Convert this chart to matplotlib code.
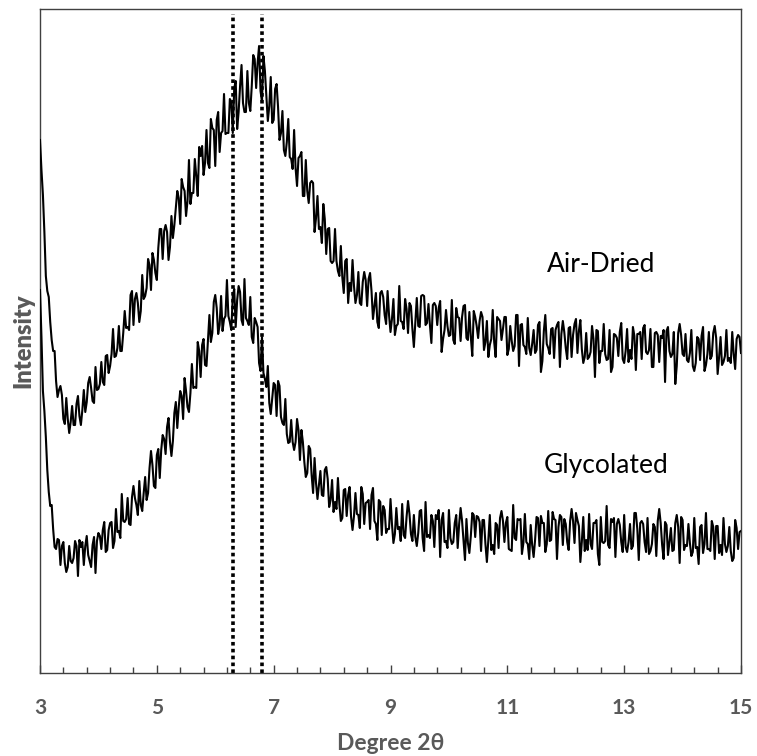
import numpy as np
import matplotlib
matplotlib.use("Agg")
import matplotlib.pyplot as plt
from matplotlib.ticker import FixedLocator

# ---- data (intensity in arbitrary units) ----
# scan: 3.00 .. 15.00 degree 2θ, samples every 0.025 degree, stored as
# the points on the 0.05 grid and the points halfway between them
two_theta_start = 3.0
two_theta_end = 15.0

air_dried = [
    533, 478, 397, 376, 333, 322, 276, 287, 254, 275, 240, 267, 248, 277, 248, 283, 271, 296, 272, 306,
    284, 311, 288, 318, 307, 344, 317, 347, 322, 362, 346, 378, 348, 380, 351, 398, 377, 414, 383, 413,
    393, 444, 414, 448, 413, 457, 448, 482, 449, 486, 457, 513, 480, 514, 477, 517, 498, 543, 505, 545,
    507, 561, 540, 579, 540, 574, 540, 592, 561, 608, 561, 602, 562, 618, 585, 627, 571, 602, 552, 596,
    553, 589, 533, 562, 517, 554, 514, 543, 487, 517, 477, 513, 470, 492, 441, 477, 446, 469, 419, 445,
    410, 444, 402, 427, 380, 414, 390, 413, 370, 401, 368, 401, 367, 400, 354, 380, 345, 382, 358, 382,
    341, 374, 347, 387, 351, 374, 340, 367, 326, 375, 346, 378, 348, 369, 330, 370, 348, 372, 334, 363,
    337, 373, 329, 356, 332, 367, 335, 361, 317, 356, 335, 361, 323, 352, 328, 363, 316, 354, 333, 356,
    318, 347, 322, 358, 307, 349, 326, 355, 318, 343, 323, 351, 312, 358, 325, 344, 315, 348, 306, 352,
    325, 345, 316, 349, 320, 353, 310, 340, 316, 347, 296, 342, 322, 349, 313, 343, 306, 338, 317, 350,
    310, 344, 323, 346, 303, 339, 314, 348, 319, 344, 306, 341, 311, 335, 291, 346, 316, 341, 307, 349,
    319, 339, 311, 343, 302, 336, 313, 346, 308, 341, 317, 347, 299, 336, 311, 343, 315, 341, 304, 338,
    320,
]

air_dried_half = [
    503, 441, 382, 351, 322, 292, 283, 278, 249, 254, 251, 248, 269, 257, 263, 261, 290, 285, 270, 283,
    289, 291, 317, 300, 319, 316, 325, 322, 340, 345, 343, 382, 374, 370, 362, 374, 385, 408, 420, 400,
    425, 444, 442, 441, 426, 435, 465, 475, 494, 482, 472, 469, 480, 497, 526, 527, 510, 510, 554, 543,
    553, 521, 542, 539, 540, 571, 585, 544, 587, 570, 561, 570, 587, 614, 610, 582, 617, 577, 567, 550,
    584, 566, 540, 523, 531, 516, 504, 505, 515, 521, 477, 482, 490, 490, 455, 444, 430, 454, 444, 412,
    412, 412, 397, 396, 412, 370, 382, 387, 378, 370, 391, 393, 394, 382, 367, 351, 380, 376, 349, 358,
    354, 338, 349, 352, 344, 364, 370, 344, 351, 347, 377, 377, 350, 348, 368, 367, 365, 321, 343, 347,
    338, 333, 365, 355, 356, 368, 333, 336, 362, 347, 352, 356, 331, 316, 334, 331, 356, 352, 344, 356,
    324, 332, 327, 358, 348, 328, 319, 325, 329, 320, 348, 301, 342, 329, 319, 345, 343, 351, 339, 341,
    314, 346, 338, 354, 342, 324, 316, 314, 321, 334, 343, 310, 322, 319, 314, 301, 339, 335, 341, 314,
    322, 311, 314, 337, 339, 341, 345, 321, 323, 306, 340, 338, 337, 343, 342, 322, 319, 289, 340, 338,
    317, 313, 320, 307, 310, 334, 337, 302, 319, 314, 340, 335, 316, 308, 317, 312, 310, 319, 334, 336,
]

glycolated = [
    383, 282, 236, 181, 168, 126, 134, 108, 131, 101, 127, 110, 132, 97, 126, 108, 137, 112, 128, 100,
    140, 124, 151, 123, 150, 125, 164, 142, 179, 151, 175, 148, 187, 168, 192, 162, 196, 180, 222, 187,
    218, 195, 238, 219, 255, 217, 260, 245, 282, 254, 282, 261, 309, 286, 331, 296, 334, 307, 358, 340,
    378, 339, 377, 354, 393, 351, 377, 346, 387, 353, 394, 352, 376, 330, 351, 310, 336, 294, 307, 259,
    290, 257, 287, 250, 274, 230, 253, 223, 254, 213, 231, 196, 227, 198, 215, 174, 202, 177, 206, 166,
    193, 171, 195, 152, 183, 157, 186, 143, 180, 158, 186, 149, 171, 144, 185, 149, 173, 138, 163, 144,
    174, 130, 165, 146, 169, 135, 172, 139, 158, 127, 162, 135, 171, 138, 158, 126, 154, 116, 160, 132,
    163, 129, 150, 125, 165, 133, 154, 120, 160, 136, 156, 122, 153, 111, 158, 128, 150, 125, 162, 131,
    156, 123, 168, 133, 153, 119, 159, 129, 148, 116, 156, 127, 150, 121, 162, 133, 154, 114, 158, 128,
    149, 123, 164, 130, 153, 111, 156, 133, 159, 124, 150, 119, 156, 130, 167, 125, 151, 116, 154, 131,
    158, 121, 149, 127, 160, 113, 152, 131, 155, 122, 149, 117, 164, 128, 151, 118, 145, 123, 158, 110,
    153, 128, 149, 117, 155, 126, 146, 120, 160, 124, 152, 114, 147, 128, 155, 121, 146, 112, 153, 124,
    142,
]

glycolated_half = [
    336, 262, 203, 167, 144, 124, 133, 127, 110, 106, 112, 115, 127, 133, 131, 127, 118, 106, 136, 132,
    137, 143, 121, 143, 151, 132, 141, 135, 152, 154, 149, 176, 175, 158, 168, 180, 173, 205, 208, 185,
    224, 223, 234, 246, 231, 232, 271, 266, 277, 295, 266, 280, 285, 285, 322, 328, 308, 332, 331, 371,
    365, 348, 342, 357, 357, 343, 384, 373, 381, 348, 355, 348, 336, 355, 346, 302, 300, 286, 270, 274,
    288, 292, 256, 248, 239, 231, 231, 231, 243, 243, 211, 200, 224, 180, 190, 188, 178, 203, 194, 173,
    161, 164, 169, 155, 184, 178, 156, 157, 159, 145, 179, 170, 173, 178, 152, 133, 171, 167, 140, 144,
    149, 139, 144, 132, 138, 156, 159, 132, 136, 140, 163, 122, 136, 135, 152, 158, 163, 153, 131, 125,
    135, 131, 158, 149, 152, 113, 130, 137, 158, 157, 151, 153, 129, 133, 123, 119, 148, 155, 152, 150,
    124, 122, 135, 154, 154, 130, 131, 114, 128, 133, 155, 157, 150, 129, 132, 161, 153, 146, 156, 154,
    131, 152, 152, 160, 147, 131, 122, 123, 129, 150, 153, 108, 131, 132, 128, 154, 155, 149, 148, 121,
    126, 131, 124, 160, 144, 150, 149, 121, 119, 129, 146, 152, 150, 114, 148, 131, 122, 150, 146, 156,
    123, 127, 130, 121, 125, 109, 148, 129, 124, 122, 146, 147, 120, 118, 129, 127, 122, 115, 145, 141,
]

reference_peaks = [6.31, 6.80]          # dotted reference lines (degree 2θ)
major_ticks = [3, 5, 7, 9, 11, 13, 15]
minor_step = 0.4
labels = {"Air-Dried": (12.6, 408), "Glycolated": (12.69, 208)}


def scan(grid_vals, half_vals):
    xg = np.linspace(two_theta_start, two_theta_end, len(grid_vals))
    step = (two_theta_end - two_theta_start) / (len(grid_vals) - 1)
    xh = np.linspace(two_theta_start + step / 2, two_theta_end - step / 2, len(half_vals))
    x = np.concatenate([xg, xh])
    y = np.concatenate([np.asarray(grid_vals, float), np.asarray(half_vals, float)])
    order = np.argsort(x, kind="stable")
    return x[order], y[order]


x_air, y_air = scan(air_dried, air_dried_half)
x_gly, y_gly = scan(glycolated, glycolated_half)

# ---- figure ----
fig = plt.figure(figsize=(7.57, 7.56), dpi=100)
ax = fig.add_axes([40 / 757, 1 - 673 / 756, (741 - 40) / 757, (673 - 8.5) / 756])

ax.plot(x_air, y_air, color="black", lw=1.5, zorder=3)
ax.plot(x_gly, y_gly, color="black", lw=1.5, zorder=3)

for p in reference_peaks:
    ax.axvline(p, ymin=0, ymax=0.992, color="black", lw=2.6,
               linestyle=(0, (1.0, 0.9)), zorder=2)

ax.set_xlim(two_theta_start, two_theta_end)
ax.set_ylim(0, 664.5)

minor_positions = [two_theta_start + minor_step * k for k in range(31)]
minor_positions = [m for m in minor_positions if min(abs(m - t) for t in major_ticks) > 1e-6]
ax.xaxis.set_major_locator(FixedLocator(major_ticks))
ax.xaxis.set_minor_locator(FixedLocator(minor_positions))
ax.tick_params(axis="x", which="both", direction="in", color="#404040", width=1.0,
               top=False, bottom=True)
ax.tick_params(axis="x", which="major", length=5.5, pad=18)
ax.tick_params(axis="x", which="minor", length=4.3)
ax.set_yticks([])

for s in ax.spines.values():
    s.set_color("#404040")
    s.set_linewidth(1.0)

for lbl in ax.get_xticklabels():
    lbl.set_fontfamily(["Lato", "DejaVu Sans"])
    lbl.set_fontweight("bold")
    lbl.set_fontsize(15)
    lbl.set_color("#595959")

ax.set_xlabel("Degree 2θ", family=["Lato", "DejaVu Sans"], fontweight="bold",
              fontsize=16.5, color="#595959", labelpad=11)
ax.set_ylabel("Intensity", family=["Lato", "DejaVu Sans"], fontweight="heavy",
              fontsize=17, color="#595959", labelpad=4)

for text, (tx, ty) in labels.items():
    ax.text(tx, ty, text, ha="center", va="center", fontsize=19,
            family=["Lato", "DejaVu Sans"], color="black")

fig.savefig("out.png", dpi=100)
